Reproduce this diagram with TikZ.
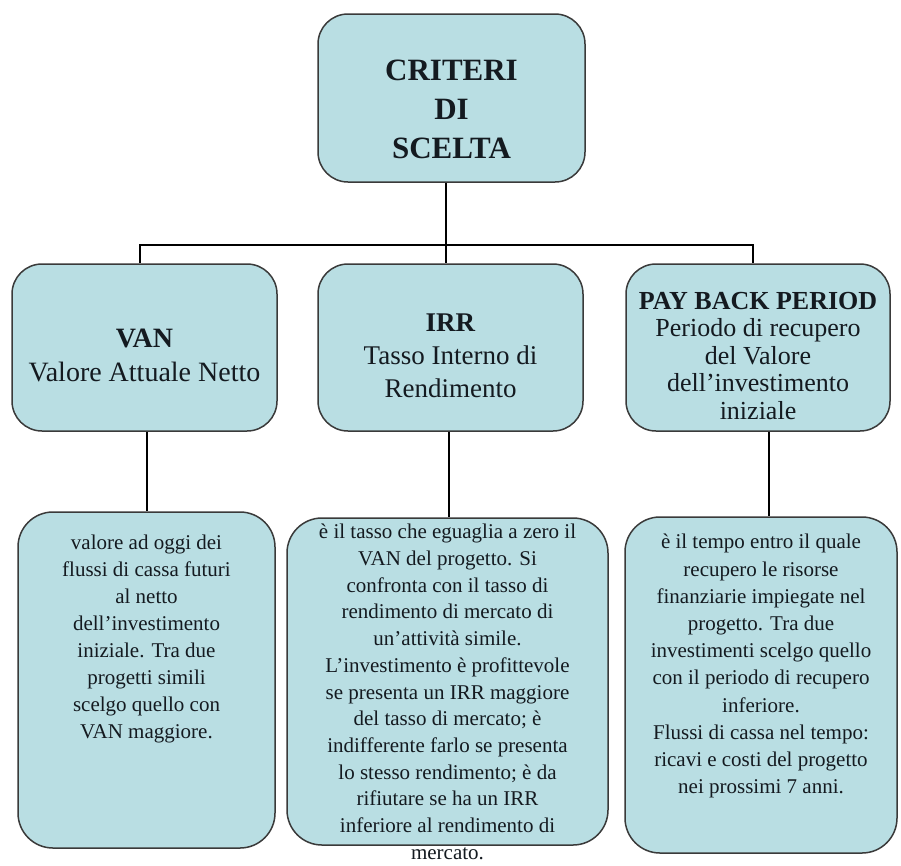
\documentclass[tikz,border=0pt]{standalone}
\usepackage{fontspec}
\setmainfont{Liberation Serif}
\definecolor{boxfill}{HTML}{B9DEE3}
\definecolor{boxline}{HTML}{3A3A3A}
\definecolor{txt}{HTML}{141A20}
\begin{document}
\begin{tikzpicture}[x=1pt,y=-1pt,
  box/.style={draw=boxline, line width=1.5pt, fill=boxfill, rounded corners=30pt, inner sep=0pt},
  mtext/.style={inner sep=0pt, text=txt, align=center},
  btext/.style={anchor=north, inner sep=0pt, text=txt, align=center, font=\fontsize{21}{27}\selectfont},
  conn/.style={line width=2pt, draw=black}]
\useasboundingbox (0,0) rectangle (901,865);
\fill[white] (0,0) rectangle (901,865);

\node[box, minimum width=267pt, minimum height=168pt] (top) at (451.5,98) {};
\node[box, minimum width=265pt, minimum height=167pt] (van) at (144.5,347.5) {};
\node[box, minimum width=265pt, minimum height=167pt] (irr) at (450.5,347.5) {};
\node[box, minimum width=264pt, minimum height=167pt] (pbp) at (758,347.5) {};

\node[mtext, font=\fontsize{31}{39}\selectfont\bfseries] (topt) at (451.5,109) {CRITERI\\DI\\SCELTA};
\node[mtext, font=\fontsize{28}{34}\selectfont] (vant) at (144.5,355.5) {\textbf{VAN}\\Valore Attuale Netto};
\node[mtext, font=\fontsize{27}{33}\selectfont] (irrt) at (450.5,356) {\textbf{IRR}\\Tasso Interno di\\Rendimento};
\node[mtext, font=\fontsize{26}{27.5}\selectfont] (pbpt) at (758,356) {\textbf{PAY BACK PERIOD}\\Periodo di recupero\\del Valore\\dell'investimento\\iniziale};

\node[box, rounded corners=35pt, minimum width=257pt, minimum height=336pt] (vanb) at (146.5,680) {};
\node[box, rounded corners=35pt, minimum width=321pt, minimum height=327pt] (irrb) at (447.5,681.5) {};
\node[box, rounded corners=35pt, minimum width=272pt, minimum height=336pt] (pbpb) at (761,685) {};

\node[btext] (vanbt) at (146.5,535) {valore ad oggi dei\\flussi di cassa futuri\\al netto\\dell'investimento\\iniziale. Tra due\\progetti simili\\scelgo quello con\\VAN maggiore.};
\node[btext, font=\fontsize{21}{26.7}\selectfont] (irrbt) at (447.5,524) {è il tasso che eguaglia a zero il\\VAN del progetto. Si\\confronta con il tasso di\\rendimento di mercato di\\un'attività simile.\\L'investimento è profittevole\\se presenta un IRR maggiore\\del tasso di mercato; è\\indifferente farlo se presenta\\lo stesso rendimento; è da\\rifiutare se ha un IRR\\inferiore al rendimento di\\mercato.};
\node[btext, font=\fontsize{21}{27.2}\selectfont] (pbpbt) at (761,534) {è il tempo entro il quale\\recupero le risorse\\finanziarie impiegate nel\\progetto. Tra due\\investimenti scelgo quello\\con il periodo di recupero\\inferiore.\\Flussi di cassa nel tempo:\\ricavi e costi del progetto\\nei prossimi 7 anni.};

\coordinate (bar) at (446,245);
\draw[conn] ([xshift=-5.5pt]top.south) -- (bar) -- (bar |- irr.north);
\draw[conn] ([xshift=-4.5pt]van.north) |- (bar) -| ([xshift=-5pt]pbp.north);
\draw[conn] ([xshift=2.5pt]van.south) -- ([xshift=2.5pt]van.south |- vanb.north);
\draw[conn] ([xshift=-1.5pt]irr.south) -- ([xshift=-1.5pt]irr.south |- irrb.north);
\draw[conn] ([xshift=11pt]pbp.south) -- ([xshift=11pt]pbp.south |- pbpb.north);
\end{tikzpicture}
\end{document}
